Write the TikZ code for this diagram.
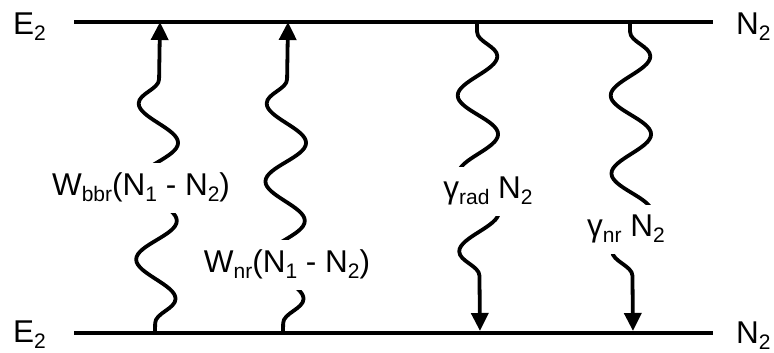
\documentclass[tikz,border=0pt]{standalone}
\usepackage{fontspec}
\setmainfont{Liberation Sans}
\usetikzlibrary{arrows.meta,decorations.pathmorphing}
\newcommand{\lowsub}[1]{\raisebox{-6pt}{\fontsize{21}{21}\selectfont #1}}

\begin{document}
\begin{tikzpicture}[x=1pt,y=1pt,font=\fontsize{31.5}{34}\selectfont,
level/.style={line width=4pt},
wave/.style={line width=3.8pt,line join=round,decorate,
  decoration={snake,segment length=78pt,amplitude=20pt,pre length=10pt,post length=35pt}},
absorb/.style={wave,decoration={mirror},-{Triangle[length=18pt,width=17pt]}},
emit/.style={wave,-{Triangle[length=18pt,width=17pt]}},
rate/.style={fill=white,inner xsep=2pt,inner ysep=10pt}]
\useasboundingbox (0,0) rectangle (774,353);
% energy levels
\coordinate (upL) at (74,331);
\coordinate (upR) at (713,331);
\coordinate (loL) at (74,20);
\coordinate (loR) at (713,20);
\draw[level] (upL) -- (upR);
\draw[level] (loL) -- (loR);
\node[anchor=base west,inner sep=0pt] (Eup) at (13,318) {E\lowsub{2}};
\node[anchor=base west,inner sep=0pt] (Elo) at (13,10) {E\lowsub{2}};
\node[anchor=base west,inner sep=0pt] (Nup) at (736,318) {N\lowsub{2}};
\node[anchor=base west,inner sep=0pt] (Nlo) at (736,9) {N\lowsub{2}};
% transitions
\coordinate (bbrLo) at (155,20);
\coordinate (bbrUp) at (160,331);
\coordinate (wnrLo) at (283,20);
\coordinate (wnrUp) at (288,331);
\coordinate (radUp) at (477,331);
\coordinate (radLo) at (480,22);
\coordinate (gnrUp) at (630,331);
\coordinate (gnrLo) at (633,22);
\draw[absorb] (bbrLo) -- (bbrUp);
\draw[absorb] (wnrLo) -- (wnrUp);
\draw[emit] (radUp) -- (radLo);
\draw[emit] (gnrUp) -- (gnrLo);
% rates
\node[rate,anchor=base] (Wbbr) at (141,157) {W\lowsub{bbr}(N\lowsub{1} - N\lowsub{2})};
\node[rate,anchor=base] (Wnr) at (287,80) {W\lowsub{nr}(N\lowsub{1} - N\lowsub{2})};
\node[rate,anchor=base] (grad) at (488,154) {γ\lowsub{rad} N\lowsub{2}};
\node[rate,anchor=base] (gnr) at (626,116) {γ\lowsub{nr} N\lowsub{2}};
\end{tikzpicture}
\end{document}
